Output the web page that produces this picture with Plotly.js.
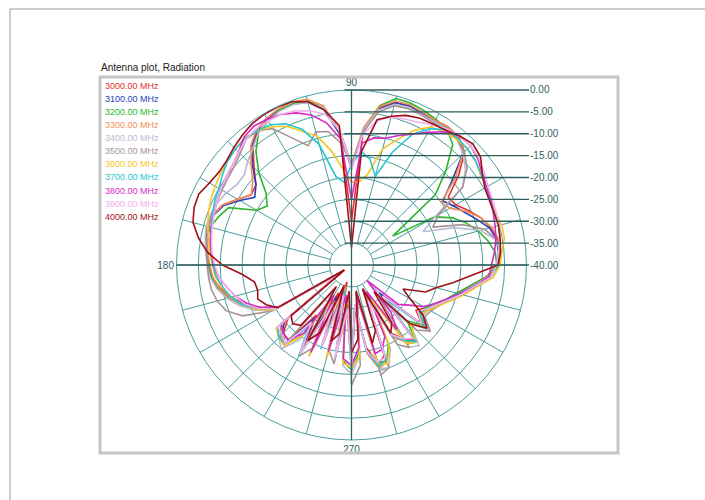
<!DOCTYPE html>
<html><head><meta charset="utf-8">
<script src="https://cdn.plot.ly/plotly-3.0.1.min.js"></script>
<style>html,body{margin:0;padding:0;background:#fff;}#chart{width:705px;height:500px;}</style>
</head><body><div id="chart"></div>
<script>
// ---- data ----
const angles = [0,5,10,15,20,25,30,35,40,45,50,55,
  60,65,70,75,80,85,90,95,100,105,110,115,
  120,125,130,135,140,145,150,155,160,165,170,175,
  180,185,190,195,200,205,210,215,220,225,230,235,
  240,245,250,255,260,265,270,275,280,285,290,295,
  300,305,310,315,320,325,330,335,340,345,350,355];

const seriesNames = ['3000.00 MHz','3100.00 MHz','3200.00 MHz','3300.00 MHz','3400.00 MHz','3500.00 MHz',
  '3600.00 MHz','3700.00 MHz','3800.00 MHz','3900.00 MHz','4000.00 MHz'];
const seriesColors = ['#e3302c','#2a40b8','#2cb62c','#f0905a','#b8bcd2','#a89494',
  '#f6c622','#28c6d0','#d82ac6','#f4b0ea','#a01018'];

const r3000 = [-6.5,-6.2,-6.0,-7.0,-8.5,-10.5,-12.5,-13,-8,-3.5,-1.8,-1.5,
  -1.8,-1.5,-1.2,-1.5,-3.5,-9,-30,-10,-3.5,-1.3,-0.8,-1.0,
  -1.5,-2.5,-5,-8.5,-11.5,-12,-10,-7.5,-6.3,-5.8,-6.2,-6.8,
  -7.3,-8,-9.5,-11.5,-14,-17,-20.5,-38,-21,-18,-17.5,-26,
  -18,-33,-22,-36,-19.5,-31,-17.5,-30,-21,-16.5,-18,-34,
  -22,-19.5,-17.5,-30,-19,-22,-20.5,-19,-17,-14.5,-12,-8.5];
const r3100 = [-6.5,-6.3,-6.3,-7.3,-9.5,-11.5,-13,-14.5,-10,-4,-2,-1.5,
  -2,-1.8,-1.3,-1.6,-3.8,-9.5,-18,-10,-4,-1.5,-0.9,-0.9,
  -1.3,-2.3,-4.5,-8,-11.5,-13,-10.5,-7.8,-6.5,-6,-6.3,-6.8,
  -7.2,-7.8,-9,-11,-13.5,-16.5,-20,-37,-20,-17.5,-16.5,-25,
  -17,-32,-21,-35,-19,-30,-16.8,-31,-20,-16,-17,-33,
  -21.5,-19,-17,-31,-18,-21,-20,-18.5,-17,-15,-12.5,-9];
const r3200 = [-6.8,-7,-8.3,-10,-12,-14.5,-18,-28.5,-15,-9.5,-4,-2,
  -1.5,-1,-0.6,-0.6,-3,-9,-17,-9.5,-3.5,-1.2,-0.8,-1.0,
  -2,-3,-6,-10,-14.5,-16.5,-15,-9,-7.7,-6.5,-6.5,-7,
  -7.5,-8,-9.2,-11,-13.5,-16.5,-20.5,-37,-19,-17.5,-16.5,-20,
  -31,-18,-34,-19,-33,-18,-16,-20,-33,-17,-16.5,-20,
  -32,-18,-17,-22,-18.5,-21,-20.5,-19,-17,-15,-12.5,-9];
const r3300 = [-6.3,-6,-5.8,-6.8,-8.5,-11,-14,-15,-9,-4,-2,-1.5,
  -1.8,-1.5,-1,-1.2,-3.2,-8.5,-17,-9,-3,-0.8,-0.3,-0.6,
  -1.2,-2.2,-4.2,-7.5,-10.5,-12,-10,-7.5,-6.4,-6,-6.5,-7,
  -7.6,-8.2,-9.3,-11,-13.2,-16,-19.5,-37,-19.5,-17,-16,-24,
  -16,-31,-20.5,-35,-18.5,-29,-15.5,-31,-19.5,-15.5,-16.5,-33,
  -21,-18.5,-17,-30,-17.5,-20.5,-20,-18,-16.5,-14.5,-12,-8.8];
const r3400 = [-6,-5.8,-6.5,-9.5,-15,-22,-18,-9,-6,-4,-2.5,-2,
  -2.2,-2,-1.8,-2,-4,-9,-17,-9.5,-3.5,-1.5,-1,-1.2,
  -1.8,-3,-5,-6.5,-8,-8,-7,-6.2,-5.8,-5.6,-6,-6.5,
  -7,-7.6,-8.8,-10.5,-12.8,-15.5,-19.5,-36,-18,-16.5,-15,-19,
  -30,-17,-33,-18,-32,-17,-15,-19,-32,-15.5,-15,-19,
  -31,-17,-16,-21,-17,-20,-19.5,-18,-16.5,-14.5,-12,-8.5];
const r3500 = [-6.2,-6,-6.3,-8.5,-13,-19.5,-17,-9,-5.5,-3.5,-2.5,-2.2,
  -2.5,-2.2,-2,-2.3,-4.5,-9.5,-17,-12,-9,-8.5,-11,-8,
  -4,-2.5,-2.5,-4,-5,-5.5,-5.8,-6,-6,-6.2,-6.5,-6.8,
  -7,-7.2,-7.5,-8.2,-9.5,-12.5,-19,-37,-19,-17,-18,-33,
  -16,-19,-34,-20,-17,-33,-12.5,-17,-33,-14,-15,-32,
  -19,-17,-30,-19,-16.5,-19.5,-19,-18,-16.5,-14.5,-12,-8.5];
const r3600 = [-6,-5.5,-4.5,-4.5,-5,-5,-4.5,-4,-3,-2.5,-2.5,-3,
  -3.5,-6,-9.5,-12.5,-19,-21,-21,-18,-13.5,-9.5,-7.5,-5,
  -3.5,-2.5,-2,-2.5,-3,-3.5,-4,-4.5,-5.2,-6,-6.8,-7.5,
  -8.2,-8.8,-10,-11.5,-13.5,-16,-19.5,-36,-17.5,-16.5,-16,-20,
  -31,-17,-33,-18,-32,-17.5,-16.5,-19,-33,-16.5,-16,-19.5,
  -31,-18,-17,-21,-18,-20.5,-19.5,-18,-16,-13.5,-11,-7.5];
const r3700 = [-6.5,-6,-5.5,-5.2,-5.2,-5,-4.5,-3.8,-3,-2.5,-2.2,-2.3,
  -4,-7,-12.5,-19,-15.5,-14,-17,-21,-19.5,-11.5,-7,-4.4,
  -3,-2.5,-2.2,-2.5,-3,-4,-5,-5.5,-6.2,-6.8,-7.3,-7.8,
  -8.3,-9,-10.2,-11.5,-13.5,-16.5,-20,-37,-18,-16.5,-16.5,-23,
  -16,-30,-19.5,-34,-18.5,-30,-16,-31,-20,-16,-17,-31,
  -21.5,-19,-17,-29,-17.5,-21,-20,-18.5,-16.5,-14,-11.5,-8];
const r3800 = [-8,-7.2,-6.5,-6,-5.5,-4.8,-4.3,-3.5,-2.3,-1.5,-1.5,-2.8,
  -5,-7,-8.5,-10,-10.5,-12,-25,-11,-7,-4.5,-3,-2,
  -1.5,-1.2,-1.8,-3.5,-4.5,-5,-5.5,-6,-6.5,-6.8,-7.2,-7.8,
  -8.5,-9.5,-11,-12.5,-14.5,-17,-21,-37,-19,-18,-17.5,-21,
  -32,-18,-34,-19.5,-33,-18.5,-17,-21,-33,-19,-19.5,-22,
  -33,-22,-26,-35,-26,-24,-21,-19,-17,-14.5,-11.5,-8.5];
const r3900 = [-6.8,-6.3,-5.5,-5,-4.8,-4.5,-4,-3,-2,-1.5,-1.5,-2,
  -3,-4,-4.5,-5,-6.5,-10,-18,-9,-5,-3.5,-2.5,-2,
  -2,-2,-2.5,-3.5,-4.5,-5,-5.5,-6,-6.5,-7,-7.5,-8,
  -8.7,-9.5,-11,-12.5,-14,-16.5,-20,-36,-18,-17.5,-16.5,-24,
  -16.5,-30,-20,-33,-18.5,-30,-16.5,-31,-20,-17,-17.5,-31,
  -21.5,-19.5,-18,-30,-19,-21.5,-20,-18.5,-16.5,-14,-11.5,-8];
const r4000 = [-6.5,-5.8,-5.5,-5.2,-5.3,-5.2,-4.8,-3.5,-1.5,-0.8,-1.5,-2.4,
  -2.8,-3,-3.6,-4.8,-6.3,-14,-36,-8,-4,-1.3,-0.3,-0.1,
  -0.2,-0.5,-1.2,-2,-2.8,-3,-2.5,-1.5,-1.7,-2.5,-4.5,-7,
  -10.5,-15,-17.5,-17.8,-17.2,-18.5,-20.5,-38,-22,-21,-22,-34,
  -20,-23,-35,-22,-24,-34,-20,-23,-34,-21.5,-24,-34,
  -22,-24,-32,-21,-17.5,-20,-24.5,-27,-22,-20,-16.5,-12.5];
const seriesValues = [r3000,r3100,r3200,r3300,r3400,r3500,r3600,r3700,r3800,r3900,r4000];

const levels = [0,-5,-10,-15,-20,-25,-30,-35,-40];
const levelLabels = ['0.00','-5.00','-10.00','-15.00','-20.00','-25.00','-30.00','-35.00','-40.00'];
const angleTickVals = [90,180,270];
const angleTickText = ['90','180','270'];
const spokeStep = 15;
const titleText = 'Antenna plot, Radiation';

// ---- geometry ----
const W=705,H=500,CX=351.5,CY=265,R=175;
const RMIN=-40,RMAX=0;
const px = x => x/W;
const py = y => 1 - y/H;
const gridColor = '#4a9c9c';
const axisColor = '#2f6666';
const levelColor = '#2f5c5c';

const traces = [];
// spokes (grid), from the inner -35 circle to the outer circle
const sr=[], st=[];
for (let a=0; a<360; a+=spokeStep){ sr.push(-35,0,null); st.push(a,a,null); }
traces.push({type:'scatterpolar',mode:'lines',r:sr,theta:st,line:{color:gridColor,width:1},hoverinfo:'skip',showlegend:false});

seriesValues.forEach((vals,i)=>{
  traces.push({type:'scatterpolar',mode:'lines',name:seriesNames[i],
    r:vals.concat([vals[0]]),theta:angles.concat([angles[0]+360]),
    line:{color:seriesColors[i],width:1.6},showlegend:false});
});

const shapes = [
  {type:'line',xref:'paper',yref:'paper',x0:px(10),x1:1,y0:py(9),y1:py(9),line:{color:'#999',width:1}},
  {type:'line',xref:'paper',yref:'paper',x0:px(10),x1:px(10),y0:py(9),y1:0,line:{color:'#999',width:1}},
  {type:'rect',xref:'paper',yref:'paper',x0:px(100),x1:px(618),y0:py(453),y1:py(77),line:{color:'#c6c6c6',width:3}},
  {type:'line',xref:'paper',yref:'paper',x0:px(CX),x1:px(CX),y0:py(CY+R),y1:py(CY-R),line:{color:axisColor,width:1.3}}
];
const annotations = [];
levels.forEach((L,i)=>{
  const y = CY - (L-RMIN)/(RMAX-RMIN)*R;
  shapes.push({type:'line',xref:'paper',yref:'paper',x0:px(L===RMIN?CX-R:CX-7),x1:px(529),y0:py(y),y1:py(y),line:{color:levelColor,width:1.3}});
  annotations.push({xref:'paper',yref:'paper',x:px(528),y:py(y),text:levelLabels[i],showarrow:false,xanchor:'left',yanchor:'middle',
    font:{family:'Liberation Sans, Arial, sans-serif',size:10,color:'#2f6262'}});
});
seriesNames.forEach((n,i)=>{
  annotations.push({xref:'paper',yref:'paper',x:px(103),y:py(86+i*13.07),text:n,showarrow:false,xanchor:'left',yanchor:'middle',
    font:{family:'Liberation Sans, Arial, sans-serif',size:9,color:seriesColors[i]}});
});
annotations.push({xref:'paper',yref:'paper',x:px(99),y:py(67.5),text:titleText,showarrow:false,xanchor:'left',yanchor:'middle',
  font:{family:'Liberation Sans, Arial, sans-serif',size:10,color:'#222'}});

const layout = {
  width:W,height:H,margin:{l:0,r:0,t:0,b:0},paper_bgcolor:'#fff',showlegend:false,
  polar:{
    domain:{x:[px(CX-R),px(CX+R)],y:[py(CY+R),py(CY-R)]},
    bgcolor:'rgba(0,0,0,0)',
    radialaxis:{range:[RMIN,RMAX],tick0:0,dtick:5,showgrid:true,gridcolor:gridColor,gridwidth:1,
      showticklabels:false,ticks:'',showline:false},
    angularaxis:{rotation:0,direction:'counterclockwise',tickmode:'array',tickvals:angleTickVals,ticktext:angleTickText,
      showgrid:false,ticks:'',showline:true,linecolor:gridColor,linewidth:1,
      tickfont:{family:'Liberation Sans, Arial, sans-serif',size:10,color:'#2f5a5a'}}
  },
  shapes:shapes,annotations:annotations
};
Plotly.newPlot('chart',traces,layout,{displayModeBar:false,staticPlot:true});
</script></body></html>
